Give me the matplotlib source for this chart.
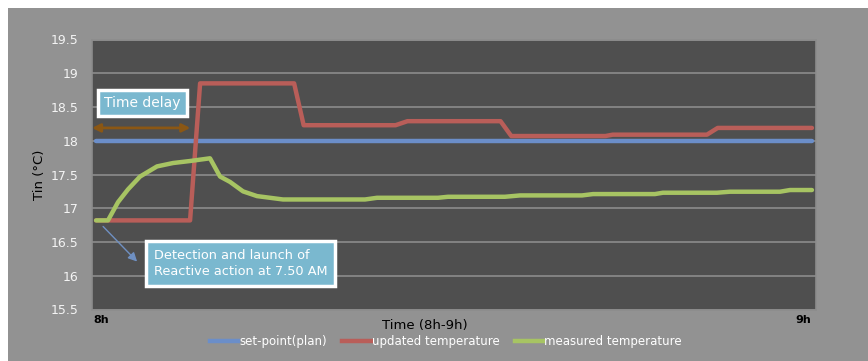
import matplotlib
matplotlib.use("Agg")
import matplotlib.pyplot as plt
from matplotlib.patches import Rectangle
from matplotlib.lines import Line2D

# time in minutes after 8h
setpoint_t = [0, 60]
setpoint_v = [18.0, 18.0]

updated_t = [0, 7.88, 8.72, 16.6, 17.4, 25.1, 26.1, 33.9, 34.8, 42.7, 43.3, 51.2, 52.1, 60]
updated_v = [16.82, 16.82, 18.85, 18.85, 18.23, 18.23, 18.29, 18.29, 18.07, 18.07, 18.09, 18.09, 18.19, 18.19]

measured_t = [0, 1.0, 1.84, 2.68, 3.69, 5.11, 6.45, 7.88, 9.55, 10.39, 11.23, 12.32, 13.49,
              15.67, 22.54, 23.55, 28.66, 29.5, 34.27, 35.53, 40.73, 41.65, 46.84, 47.51,
              52.04, 53.13, 57.32, 58.16, 60]
measured_v = [16.82, 16.82, 17.09, 17.28, 17.47, 17.62, 17.67, 17.70, 17.74, 17.47, 17.39, 17.25, 17.18,
              17.13, 17.13, 17.155, 17.155, 17.17, 17.17, 17.19, 17.19, 17.21, 17.21, 17.23,
              17.23, 17.245, 17.245, 17.27, 17.27]

yticks = [15.5, 16, 16.5, 17, 17.5, 18, 18.5, 19, 19.5]
series_names = ["set-point(plan)", "updated temperature", "measured temperature"]
colors = ["#6b8ec9", "#b95e59", "#a7c463"]

W, H = 868, 361
fig = plt.figure(figsize=(W / 100, H / 100), dpi=100)
fig.patch.set_facecolor("white")
fig.patches.append(Rectangle((8 / W, 0), 1 - 8 / W, 1 - 8 / H, transform=fig.transFigure,
                             facecolor="#929292", edgecolor="none", zorder=-10))

ax = fig.add_axes([92 / W, 1 - 309.5 / H, (816 - 92) / W, (309.5 - 39.5) / H])
ax.set_zorder(1)
ax.set_facecolor("#4f4f4f")
ax.set_xlim(-0.34, 60.34)
ax.set_ylim(15.5, 19.5)
ax.set_yticks(yticks)
ax.set_yticklabels(["%g" % v for v in yticks], color="#f4f4f4", fontsize=9)
ax.set_xticks([])
ax.tick_params(axis="y", length=0, pad=10)
ax.grid(axis="y", color="#8c8c8c", linewidth=1.2)
ax.set_axisbelow(True)
for sp in ax.spines.values():
    sp.set_color("#8c8c8c")
    sp.set_linewidth(1.2)

lw = 3.2
ax.plot(setpoint_t, setpoint_v, color=colors[0], lw=lw, solid_capstyle="round", zorder=3)
ax.plot(updated_t, updated_v, color=colors[1], lw=lw, solid_capstyle="round", zorder=3)
ax.plot(measured_t, measured_v, color=colors[2], lw=lw, solid_capstyle="round", zorder=4)

# time delay arrow + box
ax.annotate("", xy=(7.9, 18.19), xytext=(-0.34, 18.19),
            arrowprops=dict(arrowstyle="<|-|>", color="#8b5714", lw=2, mutation_scale=12,
                            shrinkA=0, shrinkB=0), zorder=5)
ax.text(3.9, 18.56, "Time delay", color="white", fontsize=10, ha="center", va="center",
        bbox=dict(boxstyle="square,pad=0.45", fc="#7ab8cf", ec="white", lw=2.5), zorder=6)

# detection arrow + box
ax.annotate("", xy=(3.44, 16.21), xytext=(0.59, 16.73),
            arrowprops=dict(arrowstyle="-|>", color="#6f90c2", lw=1, mutation_scale=13,
                            shrinkA=0, shrinkB=0), zorder=5)
ax.text(4.85, 16.18, "Detection and launch of\nReactive action at 7.50 AM", color="white",
        fontsize=9.3, ha="left", va="center", linespacing=1.35,
        bbox=dict(boxstyle="square,pad=0.6", fc="#7ab8cf", ec="white", lw=2.5), zorder=6)

# x labels
fig.text(93 / W, 1 - 320 / H, "8h", fontsize=8, fontweight="bold", color="black", va="center")
fig.text(795 / W, 1 - 320 / H, "9h", fontsize=8, fontweight="bold", color="black", va="center")
fig.text(425 / W, 1 - 326 / H, "Time (8h-9h)", fontsize=9.5, color="black", ha="center", va="center")
fig.text(40 / W, 1 - 175 / H, "Tin (°C)", fontsize=9.5, color="black", ha="center", va="center",
         rotation=90)

handles = [Line2D([], [], color=c, lw=3.2) for c in colors]
leg = fig.legend(handles, series_names, loc="center", bbox_to_anchor=(446 / W, 1 - 342 / H), ncol=3,
                 frameon=False, fontsize=8.5, handlelength=2.4, handletextpad=0.1, columnspacing=1.3)
for t in leg.get_texts():
    t.set_color("white")

fig.savefig("out.png", dpi=100, facecolor=fig.get_facecolor())
